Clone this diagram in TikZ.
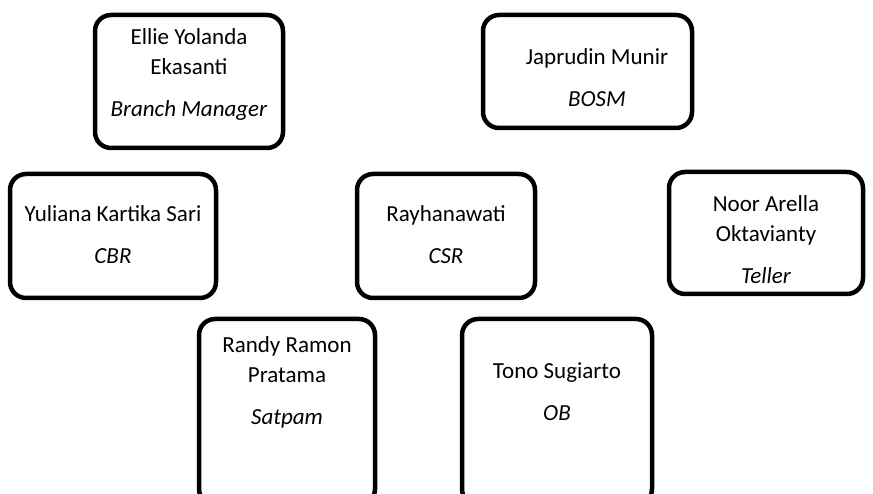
\documentclass[tikz,border=0pt]{standalone}
\usepackage{fontspec}
\setmainfont{Carlito}
\begin{document}
\begin{tikzpicture}[x=1pt,y=-1pt,
  box/.style={draw=black, line width=4.5pt, rounded corners=16pt, fill=white, inner sep=0pt},
  lbl/.style={align=center, font=\fontsize{23}{30}\selectfont, inner sep=0pt, anchor=center}]
\useasboundingbox (0,0) rectangle (873,494);
\clip (0,0) rectangle (873,494);
% boxes
\node[box, minimum width=188pt, minimum height=133pt] (ellie) at (189,81.5) {};
\node[box, minimum width=209pt, minimum height=113pt] (japrudin) at (587.5,71.5) {};
\node[box, minimum width=206pt, minimum height=124pt] (yuliana) at (113,236) {};
\node[box, minimum width=178pt, minimum height=124pt] (rayhan) at (446,236) {};
\node[box, minimum width=194pt, minimum height=122pt] (noor) at (766,233) {};
\node[box, minimum width=176pt, minimum height=186pt] (randy) at (287,412) {};
\node[box, minimum width=190pt, minimum height=186pt] (tono) at (557,412) {};
% texts
\node[lbl] (tellie) at (189,74) {Ellie Yolanda\\Ekasanti\\[12pt]\textit{Branch Manager}};
\node[lbl] (tjap) at (597,78) {Japrudin Munir\\[12pt]\textit{BOSM}};
\node[lbl] (tyul) at (113,235) {Yuliana Kartika Sari\\[12pt]\textit{CBR}};
\node[lbl] (tray) at (446,235) {Rayhanawati\\[12pt]\textit{CSR}};
\node[lbl] (tnoor) at (766,240) {Noor Arella\\Oktavianty\\[12pt]\textit{Teller}};
\node[lbl] (trandy) at (287,382) {Randy Ramon\\Pratama\\[12pt]\textit{Satpam}};
\node[lbl] (ttono) at (557,392) {Tono Sugiarto\\[12pt]\textit{OB}};
\end{tikzpicture}
\end{document}
